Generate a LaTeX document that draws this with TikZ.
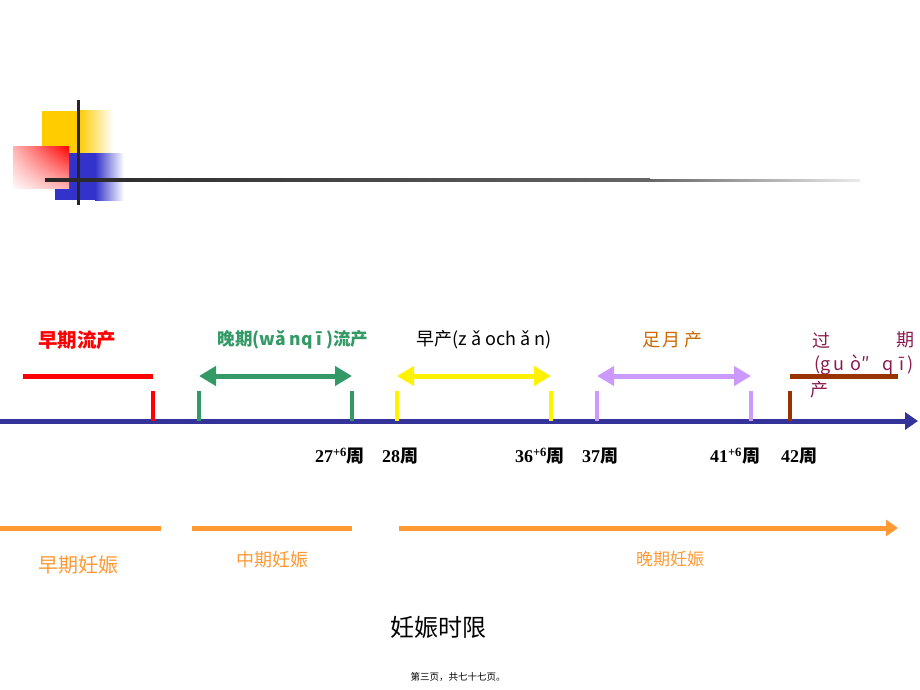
\documentclass[tikz,border=0pt]{standalone}
\usepackage{fontspec}
\setmainfont{Liberation Serif}
\newfontfamily\cjk{Noto Sans CJK SC}
\usetikzlibrary{arrows.meta,shadings}
\definecolor{axisblue}{HTML}{333399}
\definecolor{ygreen}{HTML}{339966}
\definecolor{ppurple}{HTML}{CC99FF}
\definecolor{bbrown}{HTML}{993300}
\definecolor{oorange}{HTML}{FF9933}
\definecolor{olabel}{HTML}{CC6600}
\definecolor{maroon}{HTML}{8B1A50}
\definecolor{gold}{HTML}{FFCC00}
\definecolor{dblue}{HTML}{3333CC}
\tikzset{
  lbl/.style={font=\cjk\fontsize{18}{20}\selectfont, inner sep=0pt},
  wk/.style={font=\fontsize{18}{20}\selectfont\bfseries, inner sep=0pt},
  olbl/.style={lbl, text=oorange},
  tick/.style={line width=4.5pt},
  bar/.style={line width=5pt},
  dbl/.style={line width=5pt, {Triangle[length=17pt,width=19pt]}-{Triangle[length=17pt,width=19pt]}},
}
\newcommand{\zhou}{{\cjk\bfseries 周}}
\begin{document}
\begin{tikzpicture}[x=1pt,y=-1pt]
\useasboundingbox (0,0) rectangle (920,690);
% decoration
\fill[gold] (42,111) rectangle (79,153);
\shade[left color=gold, right color=white] (79,111) rectangle (113,153);
\fill[dblue] (55,153) rectangle (95,200);
\shade[left color=dblue, right color=white] (95,153) rectangle (124,200);
\shade[upper right=red, upper left=red!30, lower right=red!30, lower left=red!3] (13,146) rectangle (69,188);
\fill[black!85] (76.5,100) rectangle (79.5,205);
\shade[left color=black!85, right color=black!60] (45,178.5) rectangle (650,181.5);
\shade[left color=black!60, right color=black!8] (650,179) rectangle (860,181);
% axis
\coordinate (ax0) at (0,421);
\coordinate (ax1) at (918,421);
\draw[line width=5pt, axisblue, -{Triangle[length=13pt,width=17pt]}] (ax0) -- (ax1);
% ticks
\foreach \x/\c/\n in {153/red/t1,199/ygreen/t2,352/ygreen/t3,397/yellow/t4,551/yellow/t5,597/ppurple/t6,751/ppurple/t7,790/bbrown/t8}{
  \coordinate (\n a) at (\x,391);
  \coordinate (\n b) at (\x,421);
  \draw[tick,\c] (\n a) -- (\n b);
}
% top bars
\coordinate (r0) at (23,376); \coordinate (r1) at (153,376);
\draw[bar,red] (r0) -- (r1);
\coordinate (g0) at (199,376); \coordinate (g1) at (352,376);
\draw[dbl,ygreen] (g0) -- (g1);
\coordinate (y0) at (397,376); \coordinate (y1) at (551,376);
\draw[dbl,yellow] (y0) -- (y1);
\coordinate (p0) at (597,376); \coordinate (p1) at (751,376);
\draw[dbl,ppurple] (p0) -- (p1);
\coordinate (b0) at (790,376); \coordinate (b1) at (898,376);
% top labels
\node[lbl,text=red,font=\cjk\bfseries\fontsize{19.5}{20}\selectfont] (l1) at (77,340) {早期流产};
\node[lbl,text=ygreen,font=\cjk\bfseries\fontsize{17.5}{20}\selectfont] (l2) at (293,340) {晚期(wǎ nq ī )流产};
\node[lbl,text=black,font=\cjk\fontsize{18}{20}\selectfont] (l3) at (484,340) {早产(z ǎ och ǎ n)};
\node[lbl,text=olabel] (l4) at (672,340) {足\,月\,产};
\node[lbl,text=maroon] (l5a) at (821,340) {过};
\node[lbl,text=maroon] (l5b) at (905,340) {期};
\node[lbl,text=maroon,font=\cjk\fontsize{18}{20}\selectfont] (l5c) at (864,365) {(g\,u\,\,ò″\ \ \ q\,\,ī\,)};
\node[lbl,text=maroon] (l5d) at (819,390) {产};
\draw[bar,bbrown] (b0) -- (b1);
% week labels
\node[wk] (w1) at (340,456) {27\textsuperscript{+6}\zhou};
\node[wk] (w2) at (400,456) {28\zhou};
\node[wk] (w3) at (540,456) {36\textsuperscript{+6}\zhou};
\node[wk] (w4) at (600,456) {37\zhou};
\node[wk] (w5) at (735,456) {41\textsuperscript{+6}\zhou};
\node[wk] (w6) at (799,456) {42\zhou};
% orange bars
\coordinate (o0) at (0,528); \coordinate (o1) at (161,528);
\coordinate (o2) at (192,528); \coordinate (o3) at (352,528);
\coordinate (o4) at (399,528); \coordinate (o5) at (898,528);
\draw[bar,oorange] (o0) -- (o1);
\draw[bar,oorange] (o2) -- (o3);
\draw[bar,oorange,-{Triangle[length=12pt,width=16pt]}] (o4) -- (o5);
\node[olbl,font=\cjk\fontsize{20}{22}\selectfont] (e1) at (78,565) {早期妊娠};
\node[olbl] (e2) at (272,560) {中期妊娠};
\node[olbl,font=\cjk\fontsize{17}{18}\selectfont] (e3) at (670,559) {晚期妊娠};
% title
\node[lbl,font=\cjk\fontsize{24}{26}\selectfont] (title) at (438,627) {妊娠时限};
\node[lbl,font=\cjk\fontsize{9.5}{11}\selectfont] (foot) at (458,677) {第三页，共七十七页。};
\end{tikzpicture}
\end{document}
